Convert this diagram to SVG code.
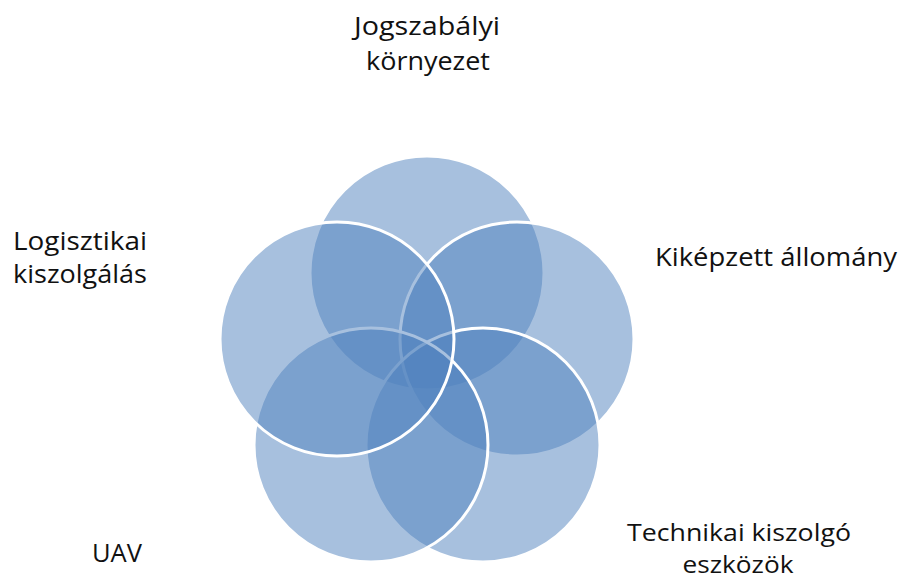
<svg xmlns="http://www.w3.org/2000/svg" width="900" height="581" viewBox="0 0 900 581">
  <style>
    .c { fill: #4f81bd; fill-opacity: 0.5; stroke: #ffffff; stroke-width: 3; }
    .t { font-family: "Open Sans", "Noto Sans", "Liberation Sans", sans-serif; font-size: 25px; fill: #111111; }
    .s { font-size: 23px; }
  </style>
  <rect width="900" height="581" fill="#ffffff"/>
  <g id="node-jogszabalyi">
    <circle class="c" cx="427" cy="273" r="117"/>
  </g>
  <g id="node-kikepzett">
    <circle class="c" cx="517" cy="339" r="117"/>
  </g>
  <g id="node-technikai">
    <circle class="c" cx="483" cy="445" r="117"/>
  </g>
  <g id="node-uav">
    <circle class="c" cx="371" cy="445" r="117"/>
  </g>
  <g id="node-logisztikai">
    <circle class="c" cx="337" cy="339" r="117"/>
  </g>
  <g id="connectors"></g>
  <g id="labels">
    <text class="t" x="427" y="35" text-anchor="middle" textLength="146" lengthAdjust="spacingAndGlyphs">Jogszabályi</text>
    <text class="t" x="428" y="70" text-anchor="middle" textLength="124" lengthAdjust="spacingAndGlyphs">környezet</text>
    <text class="t" x="80" y="250" text-anchor="middle" textLength="134" lengthAdjust="spacingAndGlyphs">Logisztikai</text>
    <text class="t" x="80" y="283" text-anchor="middle" textLength="134" lengthAdjust="spacingAndGlyphs">kiszolgálás</text>
    <text class="t" x="655" y="266" textLength="242" lengthAdjust="spacingAndGlyphs">Kiképzett állomány</text>
    <text class="t s" x="739" y="541" text-anchor="middle" textLength="224" lengthAdjust="spacingAndGlyphs">Technikai kiszolgó</text>
    <text class="t s" x="738" y="573" text-anchor="middle" textLength="111" lengthAdjust="spacingAndGlyphs">eszközök</text>
    <text class="t" x="117" y="562" text-anchor="middle" textLength="50" lengthAdjust="spacingAndGlyphs">UAV</text>
  </g>
</svg>
